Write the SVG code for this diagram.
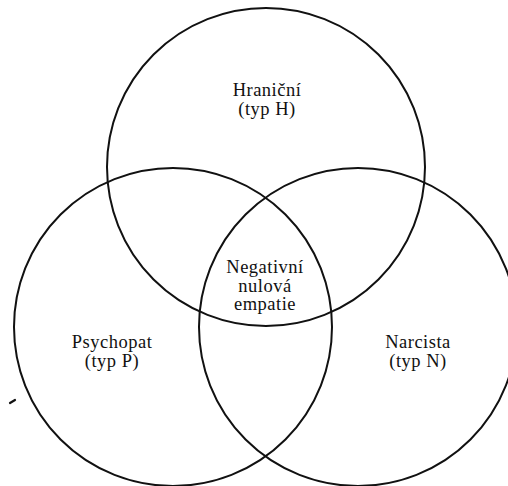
<svg xmlns="http://www.w3.org/2000/svg" width="508" height="486" viewBox="0 0 508 486">
<style>
.c{fill:none;stroke:#111;stroke-width:2}
.t{font-family:"Liberation Serif","DejaVu Serif",serif;font-size:18.5px;letter-spacing:0.5px;fill:#111;text-anchor:middle}
</style>
<rect width="508" height="486" fill="#fff"/>
<g id="circle-H"><circle class="c" cx="266" cy="167" r="159"/></g>
<g id="circle-P"><circle class="c" cx="173" cy="327" r="159"/></g>
<g id="circle-N"><circle class="c" cx="358" cy="327" r="159"/></g>
<g id="label-H"><text class="t" x="267" y="95.5">Hraniční</text><text class="t" x="267" y="115">(typ H)</text></g>
<g id="label-P"><text class="t" x="112" y="347.5">Psychopat</text><text class="t" x="112" y="367">(typ P)</text></g>
<g id="label-N"><text class="t" x="418" y="347.5">Narcista</text><text class="t" x="418" y="367">(typ N)</text></g>
<g id="label-center"><text class="t" x="265" y="273">Negativní</text><text class="t" x="265" y="291.5">nulová</text><text class="t" x="265" y="310">empatie</text></g>
<g id="connectors"></g>
<path d="M10 403 L15 400" stroke="#111" stroke-width="2.2" stroke-linecap="round"/>
</svg>
